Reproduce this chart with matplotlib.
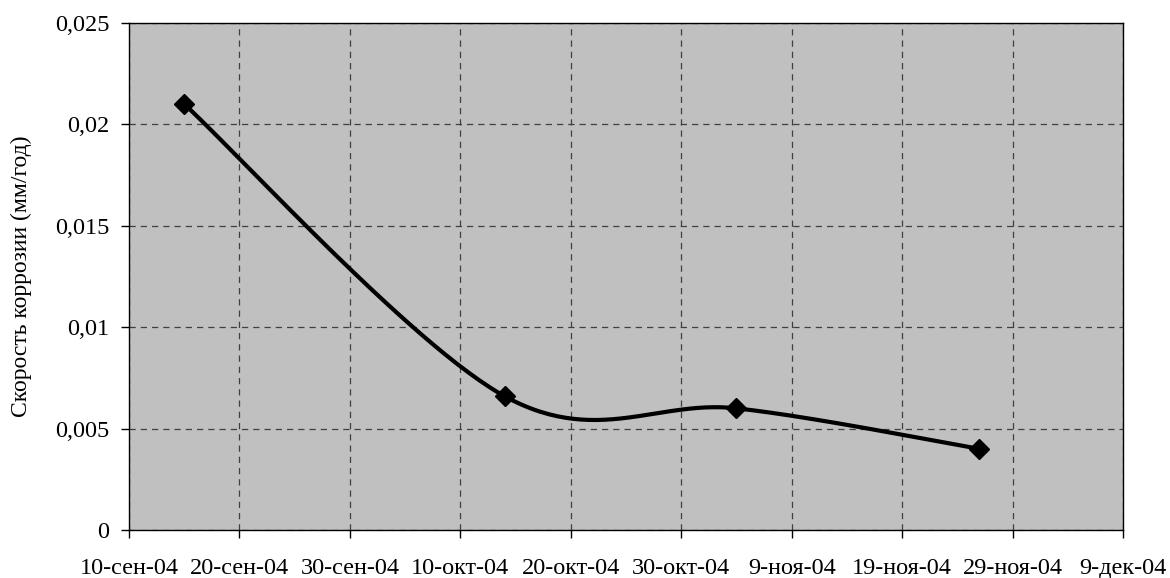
import matplotlib
matplotlib.use("Agg")
import matplotlib.pyplot as plt
import matplotlib.dates as mdates
from matplotlib.ticker import FuncFormatter, MultipleLocator
import numpy as np
import datetime as dt

# data
dates = ["2004-09-15", "2004-10-14", "2004-11-04", "2004-11-26"]
rates = [0.021, 0.0066, 0.006, 0.004]
ylabel = "Скорость коррозии (мм/год)"
months_ru = ["янв", "фев", "мар", "апр", "май", "июн", "июл", "авг", "сен", "окт", "ноя", "дек"]
x_start = "2004-09-10"
x_end = "2004-12-09"

plt.rcParams['font.family'] = ['Liberation Serif', 'DejaVu Serif']

fig = plt.figure(figsize=(11.70, 5.78), dpi=100)
ax = fig.add_axes([129/1170, 1 - 530/578, (1123-129)/1170, (530-23)/578])
ax.set_facecolor("#C0C0C0")

xd = np.array([mdates.date2num(dt.datetime.strptime(d, "%Y-%m-%d")) for d in dates])
yd = np.array(rates)

# Excel-style smoothed line (Catmull-Rom Bezier)
def smooth(x, y, n=60):
    P = np.column_stack([x, y])
    out = [P[0]]
    for i in range(len(P) - 1):
        p0 = P[i - 1] if i > 0 else P[i]
        p1 = P[i]
        p2 = P[i + 1]
        p3 = P[i + 2] if i + 2 < len(P) else P[i + 1]
        c1 = p1 + (p2 - p0) / 6
        c2 = p2 - (p3 - p1) / 6
        t = np.linspace(0, 1, n)[1:, None]
        seg = (1 - t)**3 * p1 + 3 * (1 - t)**2 * t * c1 + 3 * (1 - t) * t**2 * c2 + t**3 * p2
        out.extend(seg)
    out = np.array(out)
    return out[:, 0], out[:, 1]

sx, sy = smooth(xd, yd)
ax.plot(sx, sy, color="black", lw=3.0, solid_capstyle="round", zorder=3)
ax.plot(xd, yd, ls="none", marker="D", ms=10.5, color="black", zorder=4)

x0 = mdates.date2num(dt.datetime.strptime(x_start, "%Y-%m-%d"))
x1 = mdates.date2num(dt.datetime.strptime(x_end, "%Y-%m-%d"))
ax.set_xlim(x0, x1)
ax.set_ylim(0, 0.025)
ax.set_xticks(np.arange(x0, x1 + 0.5, 10))
ax.yaxis.set_major_locator(MultipleLocator(0.005))

def fmt_date(v, pos):
    d = mdates.num2date(v)
    return f"{d.day}-{months_ru[d.month - 1]}-{d.strftime('%y')}"

def fmt_y(v, pos):
    s = f"{v:.3f}".rstrip("0").rstrip(".")
    return s.replace(".", ",")

ax.xaxis.set_major_formatter(FuncFormatter(fmt_date))
ax.yaxis.set_major_formatter(FuncFormatter(fmt_y))

ax.grid(True, color="#404040", ls=(0, (5, 4)), lw=0.9)
ax.set_axisbelow(True)
for s in ax.spines.values():
    s.set_color("black")
    s.set_linewidth(1.0)
ax.tick_params(axis="both", direction="out", length=5.5, width=1, color="black",
               labelsize=17.5, labelcolor="black")
ax.tick_params(axis="x", pad=14.5)
ax.tick_params(axis="y", pad=8.5)
ax.set_ylabel(ylabel, fontsize=17)
ax.yaxis.set_label_coords(21/1170, 1 - 276.5/578, transform=fig.transFigure)
ax.yaxis.label.set_verticalalignment("center")

fig.savefig("out.png", dpi=100)
